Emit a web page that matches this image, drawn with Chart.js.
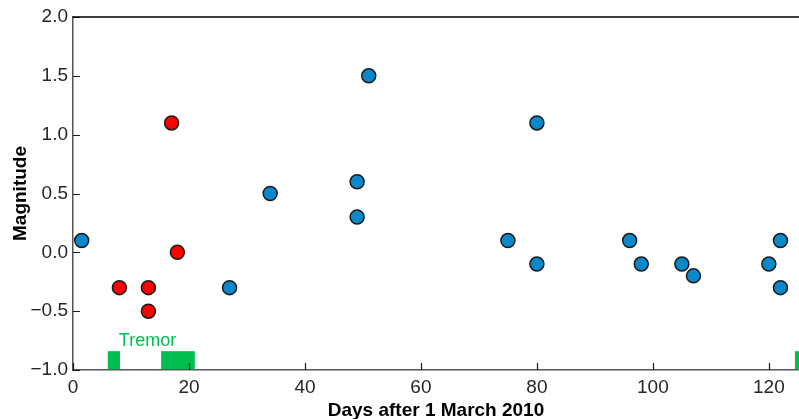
<!DOCTYPE html>
<html>
<head>
<meta charset="utf-8">
<script src="https://cdn.jsdelivr.net/npm/chart.js@4/dist/chart.umd.min.js"></script>
<style>
  html, body { margin: 0; padding: 0; background: #fff; overflow: hidden; }
  #wrap { width: 799px; height: 419px; }
</style>
</head>
<body>
<div id="wrap"><canvas id="chart" width="799" height="419"></canvas></div>
<script>
// events after 1 March 2010 (day, magnitude)
const blueDays = [1.5, 27, 34, 49, 49, 51, 75, 80, 80, 96, 98, 105, 107, 120, 122, 122];
const blueMags = [0.1, -0.3, 0.5, 0.6, 0.3, 1.5, 0.1, 1.1, -0.1, 0.1, -0.1, -0.1, -0.2, -0.1, 0.1, -0.3];
const redDays = [8, 13, 13, 17, 18];
const redMags = [-0.3, -0.3, -0.5, 1.1, 0.0];

// tremor episodes [start day, end day]
const tremorStart = [6.0, 15.2, 124.5];
const tremorEnd = [8.1, 21.0, 126];
const tremorTop = -0.84;
const tremorLabel = 'Tremor';

const xTicks = [0, 20, 40, 60, 80, 100, 120];
const yTicks = [-1.0, -0.5, 0.0, 0.5, 1.0, 1.5, 2.0];

const GREEN = '#00bf50';
const TEXT = '#262626';

function toPoints(xs, ys) {
  return xs.map((x, i) => ({ x: x, y: ys[i] }));
}

const tremorPlugin = {
  id: 'tremor',
  beforeDatasetsDraw(chart) {
    const { ctx, scales: { x, y }, chartArea } = chart;
    ctx.save();
    ctx.beginPath();
    ctx.rect(chartArea.left, chartArea.top, chartArea.right - chartArea.left, chartArea.bottom - chartArea.top);
    ctx.clip();
    ctx.fillStyle = GREEN;
    const yTop = y.getPixelForValue(tremorTop);
    const yBot = y.getPixelForValue(y.min) - 0.75;
    tremorStart.forEach((s, i) => {
      const x0 = x.getPixelForValue(s);
      const x1 = x.getPixelForValue(tremorEnd[i]);
      ctx.fillRect(x0, yTop, x1 - x0, yBot - yTop);
    });
    ctx.restore();
    ctx.save();
    ctx.fillStyle = GREEN;
    ctx.font = '18px "Liberation Sans", Arial, sans-serif';
    ctx.textAlign = 'left';
    ctx.textBaseline = 'alphabetic';
    ctx.fillText(tremorLabel, x.getPixelForValue(7.9), y.getPixelForValue(-0.8));
    ctx.restore();
  },
  afterDatasetsDraw(chart) {
    const { ctx, scales: { x, y }, chartArea } = chart;
    ctx.save();
    ctx.strokeStyle = '#1a1a1a';
    ctx.lineWidth = 1.2;
    ctx.beginPath();
    x.ticks.forEach(t => {
      const px = Math.round(x.getPixelForValue(t.value)) + 0.5;
      ctx.moveTo(px, chartArea.bottom);
      ctx.lineTo(px, chartArea.bottom - 7);
    });
    y.ticks.forEach(t => {
      const py = Math.round(y.getPixelForValue(t.value)) + 0.5;
      ctx.moveTo(chartArea.left, py);
      ctx.lineTo(chartArea.left + 7, py);
    });
    ctx.stroke();
    // top box line
    ctx.strokeStyle = '#000';
    ctx.lineWidth = 1.5;
    ctx.beginPath();
    ctx.moveTo(chartArea.left, chartArea.top);
    ctx.lineTo(chartArea.right, chartArea.top);
    ctx.stroke();
    ctx.restore();
  }
};

new Chart(document.getElementById('chart'), {
  type: 'scatter',
  data: {
    datasets: [
      {
        label: 'Earthquakes',
        data: toPoints(blueDays, blueMags),
        backgroundColor: '#0a88c9',
        borderColor: '#1a1a1a',
        borderWidth: 1.5,
        pointRadius: 7
      },
      {
        label: 'During tremor',
        data: toPoints(redDays, redMags),
        backgroundColor: '#ff0000',
        borderColor: '#1a1a1a',
        borderWidth: 1.5,
        pointRadius: 7
      }
    ]
  },
  options: {
    responsive: false,
    animation: false,
    events: [],
    layout: { autoPadding: false, padding: { top: 17, right: 0, left: 0, bottom: 0 } },
    plugins: {
      legend: { display: false },
      tooltip: { enabled: false }
    },
    scales: {
      x: {
        type: 'linear',
        min: 0,
        max: 125.2,
        afterBuildTicks: s => { s.ticks = xTicks.map(v => ({ value: v })); },
        afterFit: s => { s.height = 49; s.paddingLeft = 0; s.paddingRight = 0; },
        grid: { display: true, drawOnChartArea: false, drawTicks: false },
        border: { color: '#555', width: 1.5 },
        ticks: {
          padding: 6,
          color: TEXT,
          font: { family: '"Liberation Sans", Arial, sans-serif', size: 19 },
          callback: v => String(v)
        },
        title: {
          display: true,
          text: 'Days after 1 March 2010',
          color: '#000',
          padding: { top: 0, bottom: -3 },
          font: { family: '"Liberation Sans", Arial, sans-serif', size: 19, weight: 'bold' }
        }
      },
      y: {
        min: -1,
        max: 2,
        afterBuildTicks: s => { s.ticks = yTicks.map(v => ({ value: v })); },
        afterFit: s => { s.width = 73; s.paddingTop = 0; s.paddingBottom = 0; },
        grid: { display: true, drawOnChartArea: false, drawTicks: false },
        border: { color: '#555', width: 1.5 },
        ticks: {
          padding: 5,
          color: TEXT,
          font: { family: '"Liberation Sans", Arial, sans-serif', size: 19 },
          callback: v => v.toFixed(1).replace('-', '\u2212')
        },
        title: {
          display: true,
          text: 'Magnitude',
          color: '#000',
          padding: { top: 9, bottom: 0 },
          font: { family: '"Liberation Sans", Arial, sans-serif', size: 19, weight: 'bold' }
        }
      }
    }
  },
  plugins: [tremorPlugin]
});
</script>
</body>
</html>
